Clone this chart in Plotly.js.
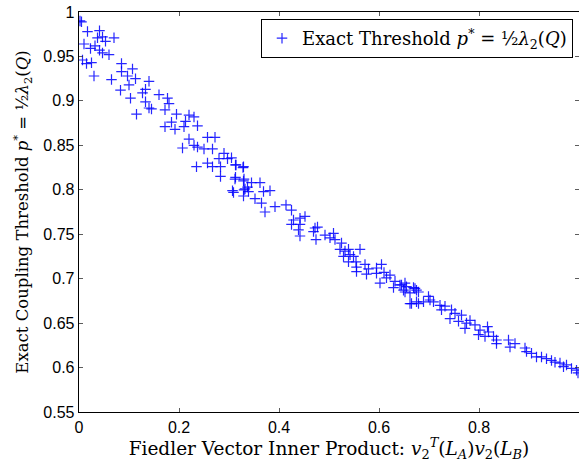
<!DOCTYPE html>
<html>
<head>
<meta charset="utf-8">
<script src="https://cdn.plot.ly/plotly-3.0.1.min.js"></script>
<style>html,body{margin:0;padding:0;background:#fff;}#chart{width:579px;height:463px;}</style>
</head>
<body>
<div id="chart"></div>
<script>
// Fiedler vector inner product (x) and exact coupling threshold (y)
const innerProduct = [
0.005,0.017,0.041,0.010,0.037,0.047,0.053,0.070,0.032,0.023,0.041,0.047,0.060,0.007,0.015,0.025,0.030,
0.085,0.085,0.107,0.097,0.065,0.113,0.140,0.100,0.083,0.133,0.127,0.103,0.160,0.133,0.177,0.180,0.140,
0.145,0.172,0.115,0.195,0.220,0.230,0.185,0.213,0.172,0.192,0.210,0.237,0.220,0.257,0.272,0.207,0.230,
0.237,0.250,0.267,0.290,0.280,0.297,0.257,0.267,0.235,0.283,0.313,0.328,0.283,0.313,0.330,0.307,0.330,
0.337,0.002,
0.305,0.314,0.329,0.312,0.329,0.345,0.362,0.309,0.332,0.339,0.329,0.369,0.382,0.352,0.365,0.372,0.392,
0.414,0.425,0.429,0.442,0.452,0.425,0.442,0.439,0.442,0.472,0.477,0.469,0.474,0.492,0.509,0.502,0.512,
0.525,0.522,0.532,0.539,0.542,0.529,0.549,0.562,0.554,0.539,0.555,0.572,0.579,0.575,0.555,0.595,0.605,
0.595,0.610,0.622,0.615,0.602,0.632,0.642,0.652,0.629,0.649,0.662,0.669,0.675,0.665,0.675,
0.645,0.655,0.652,0.672,0.679,0.662,0.679,0.689,0.699,0.702,0.709,0.722,0.725,0.732,0.745,0.752,0.742,
0.765,0.759,0.775,0.782,0.772,0.792,0.802,0.799,0.817,0.819,0.812,0.829,0.835,0.835,0.859,0.862,0.872,
0.892,0.895,0.905,0.915,0.925,0.935,0.945,0.952,0.962,0.969,0.975,0.985,0.995,0.998
];
const threshold = [
0.989,0.978,0.979,0.964,0.971,0.972,0.967,0.971,0.962,0.959,0.957,0.954,0.952,0.946,0.942,0.943,0.928,
0.942,0.933,0.936,0.928,0.924,0.925,0.922,0.918,0.912,0.913,0.909,0.903,0.907,0.899,0.903,0.897,0.892,
0.891,0.890,0.885,0.885,0.884,0.882,0.876,0.877,0.871,0.868,0.871,0.872,0.857,0.859,0.859,0.847,0.850,
0.848,0.846,0.846,0.841,0.835,0.835,0.830,0.826,0.826,0.826,0.828,0.825,0.815,0.814,0.812,0.799,0.800,
0.803,0.990,
0.836,0.828,0.826,0.812,0.810,0.808,0.808,0.797,0.801,0.798,0.793,0.798,0.799,0.790,0.785,0.775,0.781,
0.783,0.777,0.766,0.768,0.770,0.761,0.761,0.755,0.748,0.757,0.758,0.753,0.744,0.749,0.751,0.746,0.744,
0.740,0.733,0.731,0.733,0.727,0.725,0.725,0.733,0.719,0.719,0.713,0.716,0.711,0.705,0.708,0.712,0.716,
0.706,0.707,0.704,0.701,0.695,0.697,0.693,0.695,0.690,0.687,0.684,0.690,0.687,0.672,0.674,
0.693,0.691,0.685,0.689,0.685,0.672,0.672,0.674,0.680,0.676,0.674,0.670,0.665,0.669,0.665,0.661,0.655,
0.659,0.652,0.650,0.653,0.644,0.648,0.642,0.637,0.646,0.640,0.635,0.635,0.631,0.627,0.631,0.623,0.627,
0.622,0.618,0.616,0.612,0.612,0.610,0.608,0.606,0.605,0.601,0.603,0.599,0.597,0.594
];
const xTicks = [0, 0.2, 0.4, 0.6, 0.8, 1];
const xTickLabels = ['0', '0.2', '0.4', '0.6', '0.8', '1'];
const yTicks = [0.55, 0.6, 0.65, 0.7, 0.75, 0.8, 0.85, 0.9, 0.95, 1];
const yTickLabels = ['0.55', '0.6', '0.65', '0.7', '0.75', '0.8', '0.85', '0.9', '0.95', '1'];

const serif = 'DejaVu Serif, Liberation Serif, serif';
const sans = 'Liberation Sans, Arial, sans-serif';

const trace = {
  x: innerProduct,
  y: threshold,
  type: 'scatter',
  mode: 'markers',
  name: 'Exact Threshold <i>p</i><sup>*</sup> = ½<i>λ</i><sub>2</sub>(<i>Q</i>)',
  marker: {symbol: 'cross-thin-open', size: 7.5, color: 'rgba(0,0,255,0.85)', line: {width: 1.2, color: 'rgba(0,0,255,0.85)'}},
  cliponaxis: true
};

const axisCommon = {
  showline: true, linecolor: '#000', linewidth: 1.3, mirror: 'ticks',
  ticks: 'inside', ticklen: 4, tickwidth: 0.8, tickcolor: '#333',
  showgrid: false, zeroline: false,
  tickfont: {family: sans, size: 16, color: '#000'},
  tickmode: 'array'
};

const layout = {
  width: 579, height: 463,
  margin: {l: 79, r: 0, t: 12, b: 51, pad: 0},
  paper_bgcolor: '#fff', plot_bgcolor: '#fff',
  showlegend: true,
  xaxis: Object.assign({}, axisCommon, {
    range: [0, 1], tickvals: xTicks, ticktext: xTickLabels,
    title: {text: 'Fiedler Vector Inner Product: <i>v</i><sub>2</sub><sup><i>T</i></sup>(<i>L</i><sub><i>A</i></sub>)<i>v</i><sub>2</sub>(<i>L</i><sub><i>B</i></sub>)',
            font: {family: serif, size: 18.5, color: '#000'}, standoff: 5}
  }),
  yaxis: Object.assign({}, axisCommon, {
    range: [0.55, 1], tickvals: yTicks, ticktext: yTickLabels,
    title: {text: 'Exact Coupling Threshold <i>p</i><sup>*</sup> = ½<i>λ</i><sub>2</sub>(<i>Q</i>)',
            font: {family: serif, size: 16.5, color: '#000'}, standoff: 10}
  }),
  legend: {
    x: 0.988, y: 0.9825, xanchor: 'right', yanchor: 'top',
    bgcolor: '#fff', bordercolor: '#000', borderwidth: 1,
    font: {family: serif, size: 18, color: '#000'}
  }
};

Plotly.newPlot('chart', [trace], layout, {displayModeBar: false, staticPlot: true});
</script>
</body>
</html>
